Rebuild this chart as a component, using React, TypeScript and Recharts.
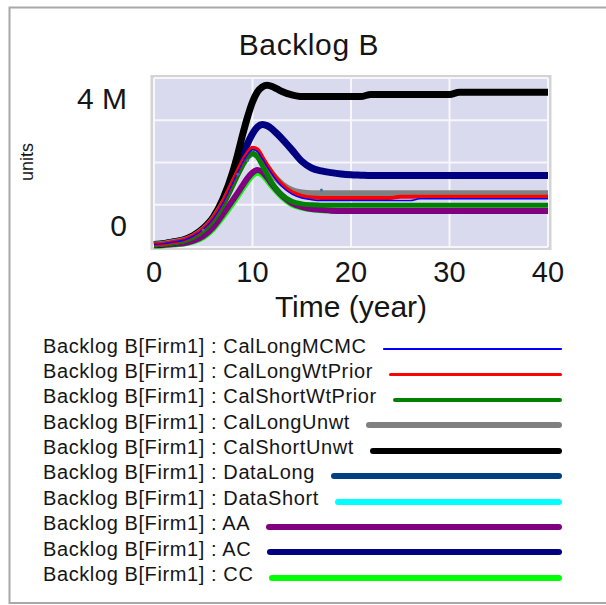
import { LineChart, Line, XAxis, YAxis, CartesianGrid } from "recharts";

const FONT = "Arial, 'Liberation Sans', sans-serif";
const INK = "#151515";

// simulation time (years)
const TIME = [
  0, 1, 2, 3, 4, 5, 6, 7, 8, 8.5, 9, 9.5, 10, 10.5, 11, 11.5, 12, 12.5, 13, 14,
  15, 16, 17, 18, 19, 20, 21, 22, 23, 24, 25, 26, 27, 28, 29, 30, 31, 32, 34,
  36, 38, 40,
];

// values in millions of units, one per TIME entry
const CAL_LONG_MCMC = [
  0.06, 0.08, 0.12, 0.16, 0.26, 0.42, 0.67, 1.04, 1.52, 1.77, 2.0, 2.19, 2.3,
  2.26, 2.09, 1.9, 1.72, 1.56, 1.43, 1.25, 1.16, 1.12, 1.1, 1.1, 1.1, 1.1, 1.1,
  1.1, 1.1, 1.1, 1.1, 1.1, 1.14, 1.14, 1.14, 1.14, 1.14, 1.14, 1.14, 1.14,
  1.14, 1.14,
];
const CAL_LONG_WT_PRIOR = [
  0.06, 0.08, 0.12, 0.17, 0.27, 0.43, 0.69, 1.07, 1.56, 1.81, 2.04, 2.23, 2.35,
  2.31, 2.13, 1.94, 1.76, 1.61, 1.48, 1.3, 1.21, 1.17, 1.16, 1.16, 1.16, 1.16,
  1.16, 1.16, 1.16, 1.16, 1.19, 1.19, 1.19, 1.19, 1.19, 1.19, 1.19, 1.19, 1.19,
  1.19, 1.19, 1.19,
];
const CAL_SHORT_WT_PRIOR = [
  0.05, 0.07, 0.1, 0.14, 0.23, 0.38, 0.62, 0.98, 1.45, 1.7, 1.93, 2.12, 2.22,
  2.13, 1.93, 1.71, 1.51, 1.35, 1.23, 1.08, 1.02, 1.0, 0.99, 0.99, 0.99, 0.99,
  0.99, 0.99, 0.99, 0.99, 0.99, 0.99, 0.99, 0.99, 0.99, 0.99, 0.99, 0.99, 0.99,
  0.99, 0.99, 0.99,
];
const CAL_LONG_UNWT = [
  0.06, 0.08, 0.12, 0.16, 0.26, 0.42, 0.67, 1.04, 1.5, 1.74, 1.96, 2.13, 2.2,
  2.16, 2.04, 1.89, 1.74, 1.6, 1.49, 1.35, 1.29, 1.27, 1.27, 1.27, 1.27, 1.27,
  1.27, 1.27, 1.27, 1.27, 1.27, 1.27, 1.27, 1.27, 1.27, 1.27, 1.27, 1.27, 1.27,
  1.27, 1.27, 1.27,
];
const CAL_SHORT_UNWT = [
  0.06, 0.08, 0.12, 0.17, 0.27, 0.44, 0.7, 1.14, 1.78, 2.2, 2.66, 3.08, 3.43,
  3.67, 3.79, 3.83, 3.8, 3.74, 3.68, 3.6, 3.56, 3.56, 3.56, 3.56, 3.56, 3.56,
  3.56, 3.61, 3.61, 3.61, 3.61, 3.61, 3.61, 3.61, 3.61, 3.61, 3.66, 3.66, 3.66,
  3.66, 3.66, 3.66,
];
const AA = [
  0.04, 0.05, 0.07, 0.09, 0.15, 0.26, 0.47, 0.78, 1.11, 1.28, 1.46, 1.63, 1.76,
  1.82, 1.77, 1.64, 1.48, 1.34, 1.22, 1.04, 0.95, 0.9, 0.88, 0.86, 0.85, 0.85,
  0.85, 0.85, 0.85, 0.85, 0.85, 0.85, 0.85, 0.85, 0.85, 0.85, 0.85, 0.85, 0.85,
  0.85, 0.85, 0.85,
];
const AC = [
  0.06, 0.08, 0.12, 0.16, 0.26, 0.42, 0.68, 1.06, 1.58, 1.88, 2.18, 2.45, 2.68,
  2.84, 2.9, 2.87, 2.79, 2.68, 2.56, 2.3, 2.03, 1.87, 1.8, 1.76, 1.73, 1.71,
  1.7, 1.69, 1.69, 1.69, 1.69, 1.69, 1.69, 1.69, 1.69, 1.69, 1.69, 1.69, 1.69,
  1.69, 1.69, 1.69,
];
const CC = [
  0.03, 0.04, 0.06, 0.08, 0.13, 0.23, 0.43, 0.72, 1.04, 1.21, 1.39, 1.56, 1.7,
  1.76, 1.71, 1.58, 1.43, 1.3, 1.18, 1.01, 0.93, 0.89, 0.87, 0.86, 0.85, 0.85,
  0.85, 0.85, 0.85, 0.85, 0.85, 0.85, 0.85, 0.85, 0.85, 0.85, 0.85, 0.85, 0.85,
  0.85, 0.85, 0.85,
];

// data series only have a few observations
const DATA_LONG_TIME = [5, 8.5, 9.5, 17];
const DATA_LONG = [0.4, 1.72, 2.05, 1.35];
const DATA_SHORT_TIME: number[] = [];
const DATA_SHORT: number[] = [];

const X_TICKS = [0, 10, 20, 30, 40];
const Y_TICKS = [0, 1e6, 2e6, 3e6, 4e6];
const Y_TICK_LABELS: Record<number, string> = { 0: "0", 4000000: "4 M" };

// legend order; drawn in reverse so the first one sits on top
const SERIES = [
  { key: "mcmc", name: "CalLongMCMC", values: CAL_LONG_MCMC, color: "#0000ff", width: 1.5, legendWidth: 1.5 },
  { key: "lwp", name: "CalLongWtPrior", values: CAL_LONG_WT_PRIOR, color: "#ff0000", width: 4, legendWidth: 3 },
  { key: "swp", name: "CalShortWtPrior", values: CAL_SHORT_WT_PRIOR, color: "#008000", width: 5, legendWidth: 4 },
  { key: "lu", name: "CalLongUnwt", values: CAL_LONG_UNWT, color: "#808080", width: 6, legendWidth: 6 },
  { key: "su", name: "CalShortUnwt", values: CAL_SHORT_UNWT, color: "#000000", width: 7, legendWidth: 6 },
  { key: "dl", name: "DataLong", times: DATA_LONG_TIME, values: DATA_LONG, color: "#004080", width: 6, legendWidth: 6 },
  { key: "ds", name: "DataShort", times: DATA_SHORT_TIME, values: DATA_SHORT, color: "#00ffff", width: 6, legendWidth: 6 },
  { key: "aa", name: "AA", values: AA, color: "#800080", width: 6, legendWidth: 6 },
  { key: "ac", name: "AC", values: AC, color: "#000080", width: 7, legendWidth: 6 },
  { key: "cc", name: "CC", values: CC, color: "#00ff00", width: 6, legendWidth: 6 },
];

const rows = TIME.map((t, i) => {
  const row: Record<string, number> = { t };
  SERIES.forEach((s) => {
    if (!s.times) row[s.key] = s.values[i] * 1e6;
  });
  return row;
});

function YTick(props: any) {
  const { x, y, payload } = props;
  const label = Y_TICK_LABELS[payload.value];
  if (!label) return <g />;
  // vensim puts the min/max labels inside the axis span
  const dy = payload.value > 0 ? 31 : -11;
  return (
    <text x={x} y={y + dy} textAnchor="end" fontSize={30} fill={INK} fontFamily={FONT}>
      {label}
    </text>
  );
}

export default function App() {
  return (
    <div
      style={{
        position: "absolute",
        left: 0,
        top: 0,
        width: 606,
        height: 605,
        overflow: "hidden",
        background: "#fff",
        fontFamily: FONT,
      }}
    >
      <svg width={606} height={605} style={{ position: "absolute", left: 0, top: 0 }}>
        <path d="M606 7.5 H9.5 V603 H606" fill="none" stroke="#a8a8a8" strokeWidth={2} />
        <rect x={150.5} y={75} width={401} height={175} fill="#d4d4d4" />
        <text
          x={309}
          y={55}
          textAnchor="middle"
          fontSize={30}
          letterSpacing={0.6}
          fill={INK}
          fontFamily={FONT}
        >
          Backlog B
        </text>
        <text
          transform="translate(27 162) rotate(-90)"
          textAnchor="middle"
          dominantBaseline="central"
          fontSize={18}
          fill={INK}
          fontFamily={FONT}
        >
          units
        </text>
      </svg>

      <div style={{ position: "absolute", left: 0, top: 0 }}>
        <LineChart
          width={606}
          height={330}
          data={rows}
          margin={{ top: 78, right: 58, bottom: 0, left: 0 }}
        >
          <CartesianGrid
            stroke="#f6f6fb"
            strokeWidth={2}
            fill="#dadaee"
            fillOpacity={1}
          />
          <XAxis
            dataKey="t"
            type="number"
            domain={[0, 40]}
            ticks={X_TICKS}
            interval={0}
            axisLine={false}
            tickLine={false}
            tickSize={0}
            tickMargin={14}
            height={83}
            tick={{ fontSize: 29, fill: INK, fontFamily: FONT }}
            label={{
              value: "Time (year)",
              position: "insideBottom",
              offset: 13.5,
              fontSize: 30,
              fill: INK,
              fontFamily: FONT,
            }}
          />
          <YAxis
            type="number"
            domain={[0, 4e6]}
            ticks={Y_TICKS}
            interval={0}
            width={154}
            axisLine={false}
            tickLine={false}
            tickSize={0}
            tickMargin={27}
            tick={<YTick />}
          />
          {[...SERIES].reverse().map((s) => {
            if (s.times) {
              if (s.times.length === 0) return null;
              const pts = s.times.map((t, i) => ({ t, [s.key]: s.values[i] * 1e6 }));
              return (
                <Line
                  key={s.key}
                  data={pts}
                  dataKey={s.key}
                  stroke="none"
                  dot={{ r: 1.5, fill: "#3f6fa8", stroke: "none" }}
                  activeDot={false}
                  isAnimationActive={false}
                />
              );
            }
            return (
              <Line
                key={s.key}
                type="monotone"
                dataKey={s.key}
                stroke={s.color}
                strokeWidth={s.width}
                dot={false}
                activeDot={false}
                isAnimationActive={false}
              />
            );
          })}
        </LineChart>
      </div>

      <div style={{ position: "absolute", left: 43, top: 333.5, width: 519 }}>
        {SERIES.map((s) => (
          <div
            key={s.key}
            style={{
              display: "flex",
              alignItems: "center",
              height: 25.4,
              lineHeight: "25.4px",
              fontSize: 20,
              letterSpacing: 0.6,
              color: INK,
              whiteSpace: "nowrap",
            }}
          >
            <span>Backlog B[Firm1] : {s.name}</span>
            <span
              style={{
                flex: 1,
                marginLeft: 16,
                height: s.legendWidth,
                background: s.color,
                borderRadius: s.legendWidth / 2,
                position: "relative",
                top: 3,
              }}
            />
          </div>
        ))}
      </div>
    </div>
  );
}
